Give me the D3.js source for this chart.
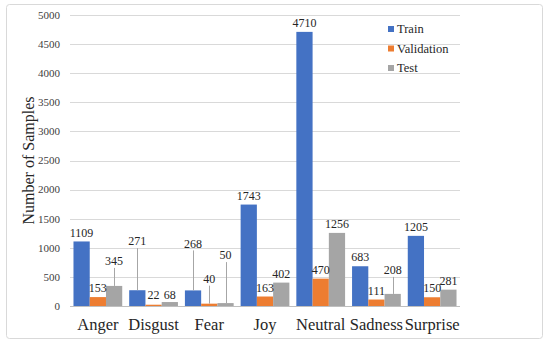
<!DOCTYPE html>
<html>
<head>
<meta charset="utf-8">
<script src="https://cdn.jsdelivr.net/npm/d3@7"></script>
<style>
  body { margin: 0; background: #fff; }
</style>
</head>
<body>
<svg id="chart" width="550" height="347"></svg>
<script>
// chart data
const categories = ['Anger', 'Disgust', 'Fear', 'Joy', 'Neutral', 'Sadness', 'Surprise'];
const seriesNames = ['Train', 'Validation', 'Test'];
const train = [1109, 271, 268, 1743, 4710, 683, 1205];
const validation = [153, 22, 40, 163, 470, 111, 150];
const test = [345, 68, 50, 402, 1256, 208, 281];
const yTicks = [0, 500, 1000, 1500, 2000, 2500, 3000, 3500, 4000, 4500, 5000];

// layout only: how far some labels were pulled up (px), excel-style leader lines
const labelLift = [
  [9, 9, 25],
  [49, 10, 7],
  [47, 25, 48],
  [9, 9, 9],
  [9, 9, 9],
  [9, 9, 24],
  [9, 9, 9]
];

const colors = ['#4472C4', '#ED7D31', '#A5A5A5'];
const values = [train, validation, test];
const FONT = '"Times New Roman", "Liberation Serif", "DejaVu Serif", serif';

const svg = d3.select('#chart')
  .attr('font-family', FONT);
const margin = { left: 70, right: 90, top: 15, bottom: 41 };
const W = 550, H = 347;

// outer frame
svg.append('rect')
  .attr('x', 6.5).attr('y', 4.5)
  .attr('width', 536).attr('height', 334)
  .attr('rx', 3)
  .attr('fill', '#fff')
  .attr('stroke', '#d9d9d9');

const y = d3.scaleLinear().domain([0, 5000]).range([H - margin.bottom, margin.top]);
const x0 = d3.scaleBand().domain(categories)
  .range([margin.left, W - margin.right])
  .paddingInner(0.125).paddingOuter(0.0625);
const x1 = d3.scaleBand().domain(seriesNames).range([0, x0.bandwidth()]);

// gridlines
svg.append('g')
  .selectAll('line')
  .data(yTicks)
  .join('line')
  .attr('x1', margin.left).attr('x2', W - margin.right)
  .attr('y1', d => Math.round(y(d)) + 0.5).attr('y2', d => Math.round(y(d)) + 0.5)
  .attr('stroke', d => d === 0 ? '#bfbfbf' : '#d9d9d9')
  .attr('stroke-width', 1);

// y axis labels
svg.append('g')
  .selectAll('text')
  .data(yTicks)
  .join('text')
  .attr('x', 60)
  .attr('y', d => y(d))
  .attr('dy', '0.35em')
  .attr('text-anchor', 'end')
  .attr('font-size', 11)
  .attr('fill', '#404040')
  .text(d => d);

svg.append('text')
  .attr('transform', `translate(28,${(y(0) + y(5000)) / 2}) rotate(-90)`)
  .attr('text-anchor', 'middle')
  .attr('dy', '0.35em')
  .attr('font-size', 16)
  .attr('fill', '#262626')
  .text('Number of Samples');

// bars
const rows = [];
categories.forEach((c, i) => {
  seriesNames.forEach((s, j) => {
    rows.push({ cat: c, ser: s, v: values[j][i], color: colors[j], lift: labelLift[i][j] });
  });
});

svg.append('g')
  .selectAll('rect')
  .data(rows)
  .join('rect')
  .attr('x', d => x0(d.cat) + x1(d.ser))
  .attr('y', d => y(d.v))
  .attr('width', x1.bandwidth())
  .attr('height', d => y(0) - y(d.v))
  .attr('fill', d => d.color);

// leader lines for labels pulled away from their bar
svg.append('g')
  .selectAll('line')
  .data(rows.filter(d => d.lift > 14))
  .join('line')
  .attr('x1', d => Math.round(x0(d.cat) + x1(d.ser) + x1.bandwidth() / 2) + 0.5)
  .attr('x2', d => Math.round(x0(d.cat) + x1(d.ser) + x1.bandwidth() / 2) + 0.5)
  .attr('y1', d => y(d.v) - d.lift + 7)
  .attr('y2', d => y(d.v))
  .attr('stroke', '#a6a6a6')
  .attr('stroke-width', 1);

// value labels
svg.append('g')
  .selectAll('text')
  .data(rows)
  .join('text')
  .attr('x', d => x0(d.cat) + x1(d.ser) + x1.bandwidth() / 2)
  .attr('y', d => y(d.v) - d.lift)
  .attr('dy', '0.35em')
  .attr('text-anchor', 'middle')
  .attr('font-size', 12)
  .attr('fill', '#262626')
  .text(d => d.v);

// category labels
svg.append('g')
  .selectAll('text')
  .data(categories)
  .join('text')
  .attr('x', d => x0(d) + x0.bandwidth() / 2)
  .attr('y', 324)
  .attr('dy', '0.35em')
  .attr('text-anchor', 'middle')
  .attr('font-size', 16.5)
  .attr('fill', '#262626')
  .text(d => d);

// legend
const legend = svg.append('g')
  .selectAll('g')
  .data(seriesNames)
  .join('g')
  .attr('transform', (d, i) => `translate(388,${29 + i * 19.5})`);

legend.append('rect')
  .attr('x', 0).attr('y', -3)
  .attr('width', 6).attr('height', 6)
  .attr('fill', (d, i) => colors[i]);

legend.append('text')
  .attr('x', 9)
  .attr('dy', '0.35em')
  .attr('font-size', 12.5)
  .attr('fill', '#262626')
  .text(d => d);
</script>
</body>
</html>
